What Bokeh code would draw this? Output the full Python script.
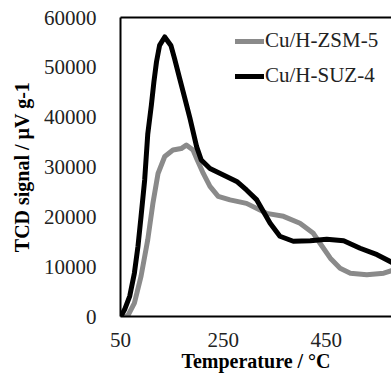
from bokeh.plotting import figure
from bokeh.models import FixedTicker, LinearAxis, Legend, LegendItem, Range1d
from bokeh.embed import file_html
from bokeh.resources import INLINE

# Data
temp_zsm5 = [50, 64, 77, 90, 103, 113, 123, 136, 152, 168, 178, 191, 198, 211, 224, 240, 263, 295,
             334, 367, 399, 425, 438, 458, 477, 497, 529, 562, 577]
tcd_zsm5 = [0, 100, 2700, 8100, 15400, 22700, 28700, 32100, 33400, 33700, 34400, 33400, 31700, 28700,
            26100, 24100, 23400, 22700, 20700, 20100, 18700, 16700, 14700, 11700, 9700, 8700, 8400, 8700, 9200]

temp_suz4 = [50, 51, 58, 68, 77, 84, 90, 97, 103, 110, 115, 120, 126, 136, 148, 155, 165, 175, 185, 198,
             207, 224, 250, 276, 295, 315, 341, 360, 386, 419, 451, 484, 516, 549, 577]
tcd_suz4 = [0, 100, 1400, 4100, 8700, 14100, 20100, 27400, 36600, 42400, 47100, 51100, 54400, 56100,
            54400, 51800, 47800, 43800, 39800, 34100, 31400, 29700, 28400, 27100, 25400, 23400, 18700,
            16100, 15100, 15200, 15500, 15200, 13700, 12400, 10900]

x_ticks = [50, 250, 450, 650]
y_ticks = [0, 10000, 20000, 30000, 40000, 50000, 60000]
series_names = ["Cu/H-ZSM-5", "Cu/H-SUZ-4"]
series_colors = ["#8a8a8a", "#000000"]
x_title = "Temperature / °C"
y_title = "TCD signal / µV g-1"

FONT = "Liberation Serif"

p = figure(width=391, height=374, output_backend="svg", toolbar_location=None,
           x_range=Range1d(50, 577), y_range=Range1d(0, 60000),
           min_border_left=120, min_border_right=0, min_border_top=17, min_border_bottom=57)
p.outline_line_color = None
p.grid.visible = False

r1 = p.line(temp_zsm5, tcd_zsm5, line_color=series_colors[0], line_width=5, line_join="round", line_cap="round")
r2 = p.line(temp_suz4, tcd_suz4, line_color=series_colors[1], line_width=5, line_join="round", line_cap="round")

for ax in (p.xaxis[0], p.yaxis[0]):
    ax.axis_line_width = 2
    ax.axis_line_color = "black"
    ax.major_tick_line_color = None
    ax.minor_tick_line_color = None
    ax.major_label_text_font = FONT
    ax.major_label_text_font_size = "21px"
    ax.major_label_text_color = "#222222"
    ax.axis_label_text_font = FONT
    ax.axis_label_text_font_size = "20px"
    ax.axis_label_text_font_style = "bold"
    ax.axis_label_text_color = "black"

p.xaxis.ticker = FixedTicker(ticks=x_ticks)
p.yaxis.ticker = FixedTicker(ticks=y_ticks)
p.xaxis.axis_label = x_title
p.yaxis.axis_label = y_title
p.xaxis.major_label_standoff = 10
p.xaxis.axis_label_standoff = 0
p.yaxis.major_label_standoff = 18
p.yaxis.axis_label_standoff = 8

top_axis = LinearAxis(ticker=FixedTicker(ticks=[]), axis_line_width=2, axis_line_color="black",
                      major_tick_line_color=None, minor_tick_line_color=None)
p.add_layout(top_axis, "above")

legend = Legend(items=[LegendItem(label=series_names[0], renderers=[r1]),
                       LegendItem(label=series_names[1], renderers=[r2])],
                location=(115, 228), orientation="vertical",
                padding=0, margin=0, spacing=10, glyph_width=29, glyph_height=20,
                label_height=20, label_standoff=1,
                label_text_font=FONT, label_text_font_size="21px", label_text_color="#222222",
                border_line_color=None, background_fill_alpha=0)
p.add_layout(legend, "center")

open("out.html", "w").write(file_html(p, INLINE))
